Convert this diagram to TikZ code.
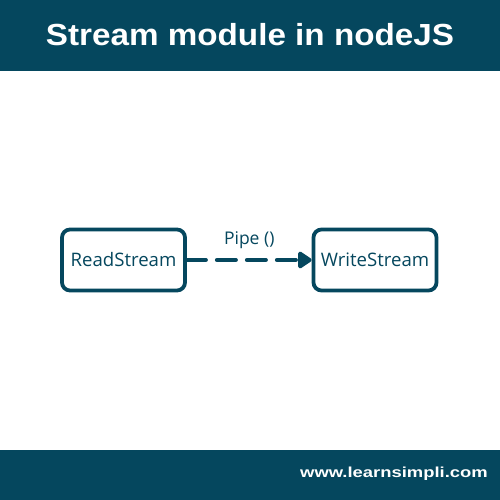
\documentclass[tikz,border=0pt]{standalone}
\usepackage{fontspec}
\setmainfont{Open Sans}
\newfontfamily\bannerfont{Liberation Sans}
\usetikzlibrary{arrows.meta}
\definecolor{teal}{HTML}{05475E}
\begin{document}
\begin{tikzpicture}[x=1pt,y=-1pt,
  banner/.style={fill=teal,draw=none},
  streambox/.style={draw=teal,line width=3.8pt,rounded corners=8pt,minimum width=123pt,minimum height=61pt,text=teal,font=\fontsize{18.6}{20}\selectfont,inner sep=0pt},
  pipe/.style={draw=teal,line width=4pt,dash pattern=on 19pt off 11pt,line cap=round,-{Triangle[length=15pt,width=19pt,round]}}
]
\useasboundingbox (0,0) rectangle (500,500);
\fill[white] (0,0) rectangle (500,500);
\path[banner] (0,0) rectangle (500,71);
\path[banner] (0,450) rectangle (500,500);
\node[text=white,font=\bannerfont\bfseries\fontsize{30.5}{32}\selectfont,inner sep=0pt] (title) at (250,34.5) {\scalebox{1.09}[1]{Stream module in nodeJS}};
\node[text=white,font=\bannerfont\bfseries\fontsize{14.5}{16}\selectfont,inner sep=0pt,anchor=east] (site) at (488,474) {\scalebox{1.27}[1]{www.learnsimpli.com}};
\node[streambox] (rs) at (123.5,260) {ReadStream};
\node[streambox] (ws) at (375,260) {WriteStream};
\draw[pipe] (rs.east) -- (ws.west) node[midway,above=9pt,text=teal,font=\fontsize{17.5}{19}\selectfont,inner sep=0pt] (lbl) {Pipe ()};
\end{tikzpicture}
\end{document}
